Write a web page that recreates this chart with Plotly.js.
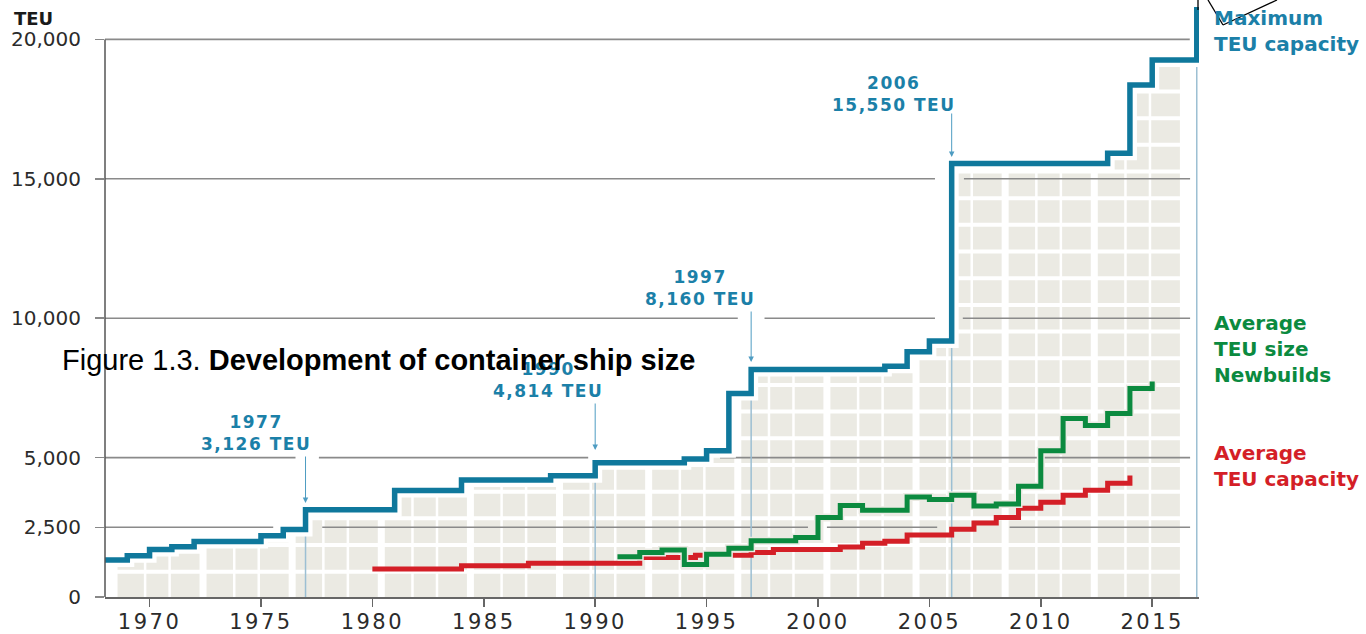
<!DOCTYPE html>
<html>
<head>
<meta charset="utf-8">
<script src="https://cdn.plot.ly/plotly-3.0.1.min.js"></script>
<style>html,body{margin:0;padding:0;background:#fff;}#chart{width:1366px;height:634px;}</style>
</head>
<body>
<div id="chart"></div>
<script>
// ---------------- DATA ----------------
const maxYears = [1968,1969,1970,1971,1972,1975,1976,1977,1981,1984,1988,1990,1994,1995,1996,1997,2003,2004,2005,2006,2013,2014,2015,2017];
const maxTEU   = [1330,1480,1700,1800,1990,2200,2420,3126,3820,4200,4350,4814,4950,5250,7300,8160,8280,8800,9180,15550,15920,18360,19260,21160];

const newbuildYears = [1991,1992,1993,1994,1995,1996,1997,1999,2000,2001,2002,2004,2005,2006,2007,2008,2009,2010,2011,2012,2013,2014,2015];
const newbuildTEU   = [1445,1600,1690,1170,1530,1750,2020,2130,2850,3280,3110,3590,3500,3650,3260,3340,3970,5250,6400,6150,6580,7480,7730];

const avgYears = [1980,1984,1987,1992,1994.5,1997,1998,2001,2002,2003,2004,2006,2007,2008,2009,2010,2011,2012,2013,2014];
const avgTEU   = [1000,1120,1210,1420,1500,1600,1700,1790,1930,2000,2220,2430,2650,2850,3180,3400,3650,3830,4080,4360];

const milestoneYears  = [1977, 1990, 1997, 2006];
const milestoneLabels = ['1977', '1990', '1997', '2006'];
const milestoneValues = ['3,126 TEU', '4,814 TEU', '8,160 TEU', '15,550 TEU'];

const xTickYears  = [1970,1975,1980,1985,1990,1995,2000,2005,2010,2015];
const xTickLabels = ['1970','1975','1980','1985','1990','1995','2000','2005','2010','2015'];
const yTickValues = [0,2500,5000,10000,15000,20000];
const yTickLabels = ['0','2,500','5,000','10,000','15,000','20,000'];

const seriesNames = ['Maximum<br>TEU capacity', 'Average<br>TEU size<br>Newbuilds', 'Average<br>TEU capacity'];
const unitLabel = 'TEU';
const figureTitle = 'Figure 1.3. <b>Development of container ship size</b>';

// ---------------- STYLE / LAYOUT CONSTANTS ----------------
const W = 1366, H = 634, L = 105, R = 167, T = 0, B = 37;
const plotW = W - L - R, plotH = H - T - B;
const X0 = 1968, X1 = 2017.1, YMAX = 21413;
const px2paperX = px => (px - L) / plotW;
const py2paperY = py => (H - B - py) / plotH;
const py2val = py => (H - B - py) / plotH * YMAX;

const C_BLUE = '#0f789c', C_TEXT_BLUE = '#1b80a8', C_GREEN = '#0b8a3f', C_RED = '#d41f27';
const C_CELL = '#ebeae3', C_GRID = '#8a8a8a', C_MARK = '#9cbfd3';
const FONT = 'DejaVu Sans';

// background cell pattern (decorative)
const cellStart = 1968.55, cellEnd = 2016.35;
const rowOffset = 907, rowStep = 957;
const colStart = 1968.4, colStep = 4, colThin = [1.4, 2.5];

// gridline segments (gaps as in the original)
const gridGaps = {
  2500:  [[X0,1975.55],[1977.75,1999.55],[2000.4,2005.35],[2008.6,2016.7]],
  5000:  [[X0,1976.55],[1977.6,1993.55],[1995.6,2016.7]],
  10000: [[X0,1996.4],[1997.6,2005.25],[2006.5,2016.7]],
  15000: [[X0,2005.25],[2006.55,2016.7]],
  20000: [[X0,2016.95]]
};

// milestone label & arrow pixel positions
const labelPx = [[256,433],[548,380],[700,288],[894,94]];
const arrowHeadPy = [503,450,362,157];
const arrowTailPy = [455,402,310,112];

// ---------------- BUILD ----------------
function stepValueAt(xs, ys, x) {
  let v = ys[0];
  for (let i = 0; i < xs.length; i++) if (xs[i] <= x) v = ys[i];
  return v;
}
function clipStep(xs, ys, a, b) {
  const X = [a], Y = [stepValueAt(xs, ys, a)];
  for (let i = 0; i < xs.length; i++) if (xs[i] > a && xs[i] < b) { X.push(xs[i]); Y.push(ys[i]); }
  X.push(b); Y.push(stepValueAt(xs, ys, b));
  return [X, Y];
}
const traces = [];
const base = {type:'scatter', mode:'lines', hoverinfo:'skip', showlegend:false};

// gray cells
const [fx, fy] = clipStep(maxYears, maxTEU, cellStart, cellEnd);
traces.push(Object.assign({}, base, {x:fx, y:fy, line:{shape:'hv', width:0, color:C_CELL}, fill:'tozeroy', fillcolor:C_CELL}));

// white pattern lines
let hx = [], hy = [];
for (let v = rowOffset; v < YMAX; v += rowStep) { hx.push(X0, X1, null); hy.push(v, v, null); }
traces.push(Object.assign({}, base, {x:hx, y:hy, line:{color:'#ffffff', width:4}}));
let vx = [], vy = [];
for (let c = colStart; c <= cellEnd + 0.1; c += colStep) { vx.push(c, c, null); vy.push(0, YMAX, null); }
traces.push(Object.assign({}, base, {x:vx, y:vy, line:{color:'#ffffff', width:7}}));
let tx = [], ty = [];
for (let c = colStart; c < cellEnd - 1; c += colStep) colThin.forEach(o => { tx.push(c + o, c + o, null); ty.push(0, YMAX, null); });
traces.push(Object.assign({}, base, {x:tx, y:ty, line:{color:'#ffffff', width:2.5}}));

// gridlines
let gx = [], gy = [];
yTickValues.filter(v => v > 0).forEach(v => (gridGaps[v] || [[X0, X1]]).forEach(s => { gx.push(s[0], s[1], null); gy.push(v, v, null); }));
traces.push(Object.assign({}, base, {x:gx, y:gy, line:{color:C_GRID, width:1.6}}));

// milestone thin vertical lines (down to axis)
let mx = [], my = [];
milestoneYears.concat([maxYears[maxYears.length - 1]]).forEach(yr => {
  const i = maxYears.indexOf(yr);
  mx.push(yr, yr, null); my.push(0, maxTEU[i - 1], null);
});
traces.push(Object.assign({}, base, {x:mx, y:my, line:{color:C_MARK, width:1.5}}));

// red
traces.push(Object.assign({}, base, {x:avgYears, y:avgTEU, line:{shape:'hv', color:C_RED, width:5}}));
// green with narrow halo
traces.push(Object.assign({}, base, {x:newbuildYears, y:newbuildTEU, line:{shape:'hv', color:C_CELL, width:8}}));
traces.push(Object.assign({}, base, {x:newbuildYears, y:newbuildTEU, line:{shape:'hv', color:C_GREEN, width:5}}));
// blue with halo
traces.push(Object.assign({}, base, {x:maxYears, y:maxTEU, line:{shape:'hv', color:'#ffffff', width:14}}));
traces.push(Object.assign({}, base, {x:maxYears, y:maxTEU, line:{shape:'hv', color:C_BLUE, width:5.5}}));

// annotations
const annotations = [];
milestoneYears.forEach((yr, i) => {
  annotations.push({xref:'paper', yref:'paper', x:px2paperX(labelPx[i][0]), y:py2paperY(labelPx[i][1]),
    xanchor:'center', yanchor:'middle', showarrow:false, align:'center',
    text:'<span style="letter-spacing:1.5px">' + milestoneLabels[i] + '<br>' + milestoneValues[i] + '</span>',
    font:{family:FONT, size:17, color:C_TEXT_BLUE, weight:700}});
  annotations.push({xref:'x', yref:'y', axref:'x', ayref:'y', x:yr, y:py2val(arrowHeadPy[i]), ax:yr, ay:py2val(arrowTailPy[i]),
    text:'', showarrow:true, arrowhead:2, arrowsize:1.1, arrowwidth:1, arrowcolor:'#4e9cc2', standoff:0, startstandoff:0});
});
const legendPos = [[1212, 30.5, C_TEXT_BLUE], [1212, 349, C_GREEN], [1212, 465.5, C_RED]];
seriesNames.forEach((nm, i) => {
  annotations.push({xref:'paper', yref:'paper', x:px2paperX(legendPos[i][0]), y:py2paperY(legendPos[i][1]),
    xanchor:'left', yanchor:'middle', align:'left', showarrow:false, text:nm,
    font:{family:FONT, size:20, color:legendPos[i][2], weight:700}});
});
annotations.push({xref:'paper', yref:'paper', x:px2paperX(12), y:py2paperY(18), xanchor:'left', yanchor:'middle',
  showarrow:false, text:unitLabel, font:{family:FONT, size:18, color:'#1a1a1a', weight:700}});
annotations.push({xref:'paper', yref:'paper', x:px2paperX(60), y:py2paperY(360), xanchor:'left', yanchor:'middle',
  showarrow:false, text:figureTitle, font:{family:'Liberation Sans', size:29, color:'#000000'}});

const shapes = [
  {type:'line', xref:'paper', yref:'y', x0:0, x1:0, y0:0, y1:20000, line:{color:'#555555', width:1.5}, layer:'above'},
  {type:'line', xref:'paper', yref:'paper', x0:px2paperX(1198), y0:py2paperY(0), x1:px2paperX(1198), y1:py2paperY(10), line:{color:'#000', width:1.3}},
  {type:'line', xref:'paper', yref:'paper', x0:px2paperX(1208), y0:py2paperY(0), x1:px2paperX(1223), y1:py2paperY(25), line:{color:'#000', width:1.3}},
  {type:'line', xref:'paper', yref:'paper', x0:px2paperX(1223), y0:py2paperY(25), x1:px2paperX(1277), y1:py2paperY(0), line:{color:'#000', width:1.3}}
];

const layout = {
  width: W, height: H,
  margin: {l:L, r:R, t:T, b:B, pad:0},
  paper_bgcolor:'#ffffff', plot_bgcolor:'#ffffff',
  showlegend:false, hovermode:false,
  xaxis: {range:[X0, X1], tickvals:xTickYears,
    ticktext:xTickLabels.map(t => '<span style="letter-spacing:2.5px">' + t + '</span>'),
    ticks:'outside', ticklen:8, tickwidth:1.5, tickcolor:'#666666',
    showline:true, linecolor:'#666666', linewidth:1.5, showgrid:false, zeroline:false,
    tickfont:{family:FONT, size:21, color:'#2b2b2b'}, ticklabelstandoff:-3, fixedrange:true},
  yaxis: {range:[0, YMAX], tickvals:yTickValues, ticktext:yTickLabels,
    ticks:'outside', ticklen:9, tickwidth:1.5, tickcolor:'#888888',
    showline:false, showgrid:false, zeroline:false,
    tickfont:{family:FONT, size:20, color:'#2b2b2b'}, ticklabelstandoff:10, fixedrange:true},
  annotations: annotations,
  shapes: shapes
};

Plotly.newPlot('chart', traces, layout, {staticPlot:true, displayModeBar:false});
</script>
</body>
</html>
